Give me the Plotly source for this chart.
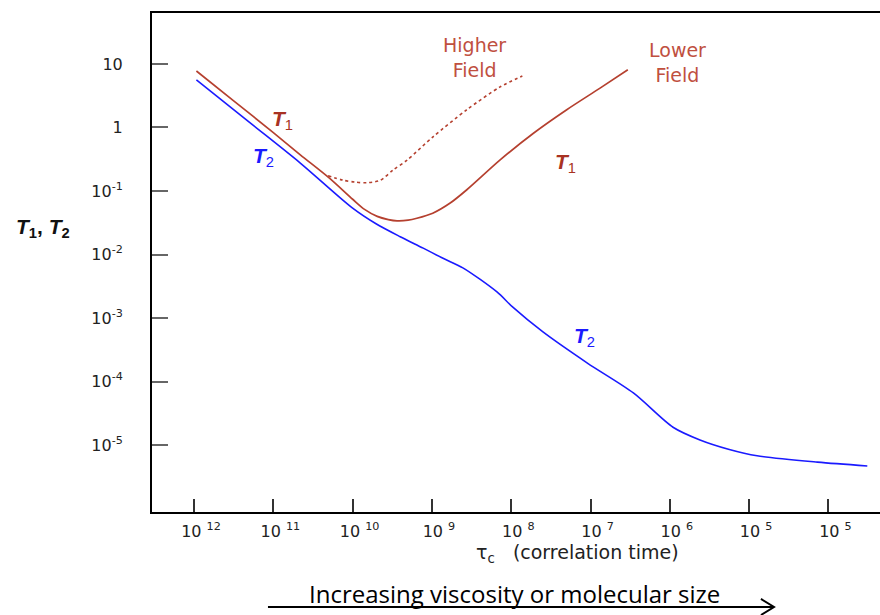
import plotly.graph_objects as go

# x: position along the correlation-time axis in tick units (0 = first tick "10^12")
tick_text = ["10 <sup>12</sup>", "10 <sup>11</sup>", "10 <sup>10</sup>", "10 <sup>9</sup>",
             "10 <sup>8</sup>", "10 <sup>7</sup>", "10 <sup>6</sup>", "10 <sup>5</sup>", "10 <sup>5</sup>"]
tick_pos = [0, 1, 2, 3, 4, 5, 6, 7, 8]

y_tick_vals = [10, 1, 0.1, 0.01, 0.001, 0.0001, 0.00001]
y_tick_text = ["10", "1", "10<sup>-1</sup>", "10<sup>-2</sup>", "10<sup>-3</sup>",
               "10<sup>-4</sup>", "10<sup>-5</sup>"]

# T1 at lower field (solid), log10 values
t1_low_x = [0.03, 0.5, 1.0, 1.34, 1.7, 2.0, 2.15, 2.31, 2.45, 2.56, 2.7, 2.81, 3.01, 3.23, 3.44,
            3.86, 4.28, 4.70, 5.12, 5.47]
t1_low_log = [0.89, 0.42, -0.08, -0.43, -0.79, -1.13, -1.29, -1.40, -1.45, -1.47, -1.46, -1.43,
              -1.35, -1.19, -0.98, -0.51, -0.09, 0.28, 0.62, 0.91]

# T1 at higher field (dotted)
t1_high_x = [1.69, 1.88, 2.03, 2.18, 2.35, 2.51, 2.69, 3.01, 3.44, 3.86, 4.14]
t1_high_log = [-0.76, -0.83, -0.86, -0.87, -0.83, -0.67, -0.51, -0.15, 0.28, 0.64, 0.81]

# T2 (solid blue)
t2_x = [0.03, 0.7, 1.34, 2.0, 2.3, 2.6, 2.89, 3.14, 3.39, 3.82, 4.02, 4.40, 4.96, 5.54, 6.04,
        6.38, 6.75, 7.10, 7.86, 8.49]
t2_log = [0.75, 0.08, -0.56, -1.27, -1.52, -1.72, -1.90, -2.06, -2.21, -2.59, -2.83, -3.22,
          -3.71, -4.18, -4.72, -4.92, -5.07, -5.17, -5.27, -5.33]

RED = "#b5402f"
BLUE = "#1a1aff"

fig = go.Figure()
fig.add_trace(go.Scatter(x=t1_low_x, y=[10 ** v for v in t1_low_log], mode="lines",
                         line=dict(color=RED, width=1.7, shape="spline", smoothing=0.8), showlegend=False))
fig.add_trace(go.Scatter(x=t1_high_x, y=[10 ** v for v in t1_high_log], mode="lines",
                         line=dict(color=RED, width=1.6, dash="3px,3px", shape="spline", smoothing=0.8),
                         showlegend=False))
fig.add_trace(go.Scatter(x=t2_x, y=[10 ** v for v in t2_log], mode="lines",
                         line=dict(color=BLUE, width=1.6, shape="spline", smoothing=0.8), showlegend=False))

lab_font = dict(family="Liberation Sans, Arial", size=21)
annos = [
    dict(x=1.12, y=0.12, text="<b><i>T</i></b><sub>1</sub>", font=dict(lab_font, color="#a83222")),
    dict(x=0.87, y=-0.46, text="<b><i>T</i></b><sub>2</sub>", font=dict(lab_font, color=BLUE)),
    dict(x=4.69, y=-0.56, text="<b><i>T</i></b><sub>1</sub>", font=dict(lab_font, color="#a83222")),
    dict(x=4.93, y=-3.30, text="<b><i>T</i></b><sub>2</sub>", font=dict(lab_font, color=BLUE)),
    dict(x=3.54, y=1.11, text="Higher<br>Field", font=dict(family="DejaVu Sans", size=19, color="#c0503f")),
    dict(x=6.10, y=1.02, text="Lower<br>Field", font=dict(family="DejaVu Sans", size=19, color="#c0503f")),
]
for a in annos:
    fig.add_annotation(xref="x", yref="y", showarrow=False, xanchor="center", yanchor="middle", **a)

fig.add_annotation(xref="paper", yref="paper", x=-0.1497, y=0.569, showarrow=False,
                   xanchor="center", yanchor="middle",
                   text="<b><i>T</i><sub>1</sub>, <i>T</i><sub>2</sub></b>",
                   font=dict(family="Liberation Sans, Arial", size=21, color="#111"))
fig.add_annotation(xref="paper", yref="paper", x=0.584, y=-0.0822, showarrow=False,
                   xanchor="center", yanchor="middle",
                   text="τ<sub>c</sub>\u00a0\u00a0\u00a0(correlation time)",
                   font=dict(family="DejaVu Sans", size=19, color="#222"))
fig.add_annotation(xref="paper", yref="paper", x=0.4986, y=-0.163, showarrow=False,
                   xanchor="center", yanchor="middle",
                   text="Increasing viscosity or molecular size",
                   font=dict(family="Open Sans", size=24, color="#000"))

# arrow under the text
fig.add_shape(type="line", xref="paper", yref="paper", x0=0.1593, y0=-0.1904, x1=0.8544, y1=-0.1904,
              line=dict(color="black", width=2))
fig.add_shape(type="path", xref="paper", yref="paper",
              path="M 0.8365,-0.1743 L 0.8544,-0.1904 L 0.8365,-0.2064",
              line=dict(color="black", width=2))

fig.update_layout(
    width=880, height=615,
    margin=dict(l=152, r=0, t=13, b=103),
    paper_bgcolor="white", plot_bgcolor="white",
    xaxis=dict(range=[-0.53, 8.65], tickvals=tick_pos, ticktext=tick_text,
               ticks="inside", ticklen=13, tickwidth=1.5, tickcolor="#333",
               showline=True, linecolor="black", linewidth=2, mirror=True,
               showgrid=False, zeroline=False, ticklabelstandoff=4, ticklabelshift=7,
               tickfont=dict(family="DejaVu Sans", size=16, color="#222")),
    yaxis=dict(type="log", range=[-6.055, 1.803], tickvals=y_tick_vals, ticktext=y_tick_text,
               ticks="inside", ticklen=16, tickwidth=1.5, tickcolor="#666",
               showline=True, linecolor="black", linewidth=2,
               showgrid=False, zeroline=False, ticklabelstandoff=24,
               tickfont=dict(family="DejaVu Sans", size=16, color="#222")),
)

fig.write_html("out.html")
